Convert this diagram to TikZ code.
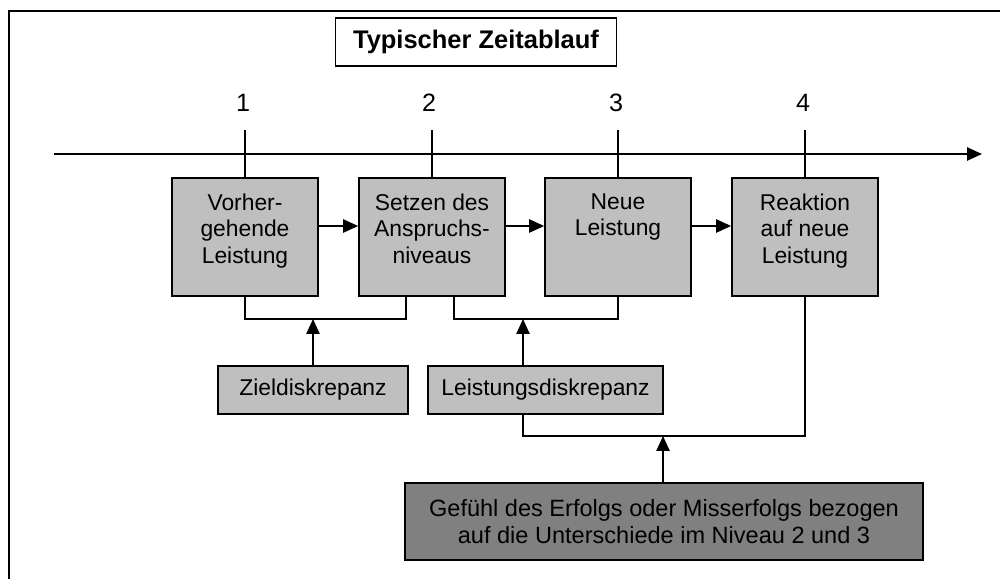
\documentclass[tikz,border=0pt]{standalone}
\usepackage{fontspec}
\setmainfont{Liberation Sans}
\usetikzlibrary{arrows.meta, positioning, calc}

\begin{document}
\begin{tikzpicture}[
  x=0.02cm, y=-0.02cm,
  font=\fontsize{13}{15.1}\selectfont,
  kasten/.style={draw=black, fill=black!25, line width=1pt, inner sep=0pt,
                 minimum width=2.92cm, minimum height=2.36cm},
  diskrepanz/.style={draw=black, fill=black!25, line width=1pt, inner sep=0pt,
                 minimum height=0.96cm},
  gefuehl/.style={draw=black, fill=black!50, line width=1pt, inner sep=0pt, align=center,
                 font=\fontsize{13.4}{15.3}\selectfont,
                 minimum width=10.36cm, minimum height=1.54cm},
  inhalt/.style={anchor=north, align=center, inner sep=0pt},
  linie/.style={draw=black, line width=1pt},
  pfeil/.style={draw=black, line width=1pt, -{Triangle[length=8.5pt,width=7.5pt]}}
]
\clip (0,0) rectangle (1000,578);

% rahmen
\draw[line width=1pt] (9,11) rectangle (1010,600);

% titel
\node[draw=black, line width=1pt, minimum width=5.62cm, minimum height=0.96cm,
      font=\fontsize{14.5}{17}\selectfont\bfseries] (titel) at (476,42) {Typischer Zeitablauf};

% zeitachse
\coordinate (achseA) at (54,154);
\coordinate (achseB) at (982,154);
\draw[pfeil] (achseA) -- (achseB);

% phasen
\node[kasten] (v1) at (245,237) {};
\node[kasten] (v2) at (432,237) {};
\node[kasten] (v3) at (618,237) {};
\node[kasten] (v4) at (805,237) {};
\node[inhalt] (v1t) at ([yshift=-0.32cm]v1.north) {Vorher-\\gehende\\Leistung};
\node[inhalt] (v2t) at ([yshift=-0.32cm]v2.north) {Setzen des\\Anspruchs-\\niveaus};
\node[inhalt] (v3t) at ([yshift=-0.32cm]v3.north) {Neue\\Leistung};
\node[inhalt] (v4t) at ([yshift=-0.32cm]v4.north) {Reaktion\\auf neue\\Leistung};

% nummern
\node[font=\fontsize{14.3}{17}\selectfont] (n1) at (243,103) {1};
\node[font=\fontsize{14.3}{17}\selectfont] (n2) at (429,103) {2};
\node[font=\fontsize{14.3}{17}\selectfont] (n3) at (616,103) {3};
\node[font=\fontsize{14.3}{17}\selectfont] (n4) at (803,103) {4};
\draw[linie] ([yshift=-0.54cm]n1.center -| v1.north) -- (v1.north);
\draw[linie] ([yshift=-0.54cm]n2.center -| v2.north) -- (v2.north);
\draw[linie] ([yshift=-0.54cm]n3.center -| v3.north) -- (v3.north);
\draw[linie] ([yshift=-0.54cm]n4.center -| v4.north) -- (v4.north);

\draw[pfeil] ([yshift=0.22cm]v1.east) -- ([yshift=0.22cm]v2.west);
\draw[pfeil] ([yshift=0.22cm]v2.east) -- ([yshift=0.22cm]v3.west);
\draw[pfeil] ([yshift=0.22cm]v3.east) -- ([yshift=0.22cm]v4.west);

% diskrepanzen
\node[diskrepanz, minimum width=3.8cm] (z1) at (313,390) {Zieldiskrepanz};
\node[diskrepanz, minimum width=4.7cm] (l1) at (545.5,390) {Leistungsdiskrepanz};
\node[gefuehl] (g1) at (664,521.5) {Gefühl des Erfolgs oder Misserfolgs bezogen\\auf die Unterschiede im Niveau 2 und 3};

\coordinate (k1) at (313,319);
\coordinate (k2) at (523,319);
\coordinate (k3) at (663,436);
\draw[linie] (v1.south) |- (k1) -| ([xshift=-0.52cm]v2.south);
\draw[linie] ([xshift=0.44cm]v2.south) |- (k2) -| (v3.south);
\draw[linie] ([xshift=-0.45cm]l1.south) |- (k3) -| (v4.south);
\draw[pfeil] (z1.north) -- (k1);
\draw[pfeil] ([xshift=-0.45cm]l1.north) -- (k2);
\draw[pfeil] (g1.north -| k3) -- (k3);

\end{tikzpicture}
\end{document}
